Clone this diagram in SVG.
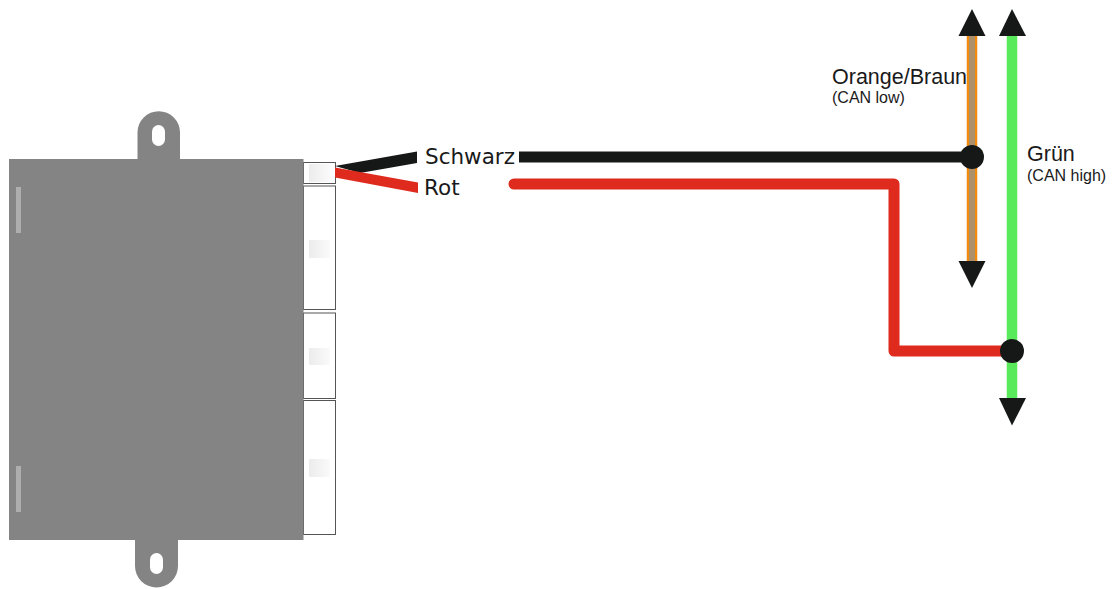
<svg xmlns="http://www.w3.org/2000/svg" width="1112" height="589" viewBox="0 0 1112 589">
<style>
.slot{fill:#fff;stroke:#555;stroke-width:1}
.body{fill:#848484}
.hole{fill:#fff}
.mark{fill:#aeaeae}
.pad{fill:url(#pad)}
.lbl{font-family:"DejaVu Sans",sans-serif;font-size:21.500px;fill:#1a1a1a}
.lbl2{font-family:"Liberation Sans",Arial,sans-serif;font-size:21.500px;fill:#1a1a1a}
.sub{font-family:"Liberation Sans",Arial,sans-serif;font-size:16px;fill:#1a1a1a}
.head{fill:#161817}
</style>
<defs>
<linearGradient id="pad"><stop offset="0" stop-color="#ececec"/><stop offset="1" stop-color="#fafafa"/></linearGradient>
</defs>
<g id="device">
<rect class="slot" x="303.500" y="162.500" width="32" height="21"/>
<rect class="slot" x="303.500" y="186" width="32" height="123.500"/>
<rect class="slot" x="303.500" y="313" width="32" height="85.500"/>
<rect class="slot" x="303.500" y="400.500" width="32" height="134"/>
<rect class="pad" x="309" y="164" width="21" height="18"/>
<rect class="pad" x="309" y="240" width="21" height="18"/>
<rect class="pad" x="309" y="348" width="21" height="17"/>
<rect class="pad" x="309" y="459" width="21" height="18"/>
<path class="body" d="M9 159H137.500V132.500A21.200 21.200 0 0 1 180 132.500V159H303.500V540H178V566A21.500 21.500 0 0 1 135 566V540H9Z"/>
<rect class="hole" x="152" y="125" width="13" height="21" rx="6.500"/>
<rect class="hole" x="150" y="553" width="13" height="21" rx="6.500"/>
<rect class="mark" x="16" y="187" width="5" height="46"/>
<rect class="mark" x="16" y="466" width="5" height="46"/>
</g>
<g id="connectors">
<path d="M335 166L417 151.500V163L360 173Z" fill="#161817"/>
<path d="M335 167.500L418 182.500V193L335 177.500Z" fill="#df2b1d"/>
<path d="M519 157H972" fill="none" stroke="#161817" stroke-width="11"/>
<path d="M514 184H894V351H1012" fill="none" stroke="#df2b1d" stroke-width="11" stroke-linecap="round" stroke-linejoin="round"/>
<path d="M972 30V265" fill="none" stroke="#f28a0e" stroke-width="10.500"/>
<path d="M972 30V265" fill="none" stroke="#ad9069" stroke-width="6"/>
<path d="M1012 30V402" fill="none" stroke="#58ea5a" stroke-width="10.500"/>
</g>
<g id="bus-low">
<path class="head" d="M972 9L985.500 36H958.500Z"/>
<path class="head" d="M972 288L985.500 261H958.500Z"/>
<circle class="head" cx="972" cy="157" r="12"/>
</g>
<g id="bus-high">
<path class="head" d="M1012 9L1026 36H999Z"/>
<path class="head" d="M1012 425.500L1026 398H999Z"/>
<circle class="head" cx="1012" cy="351" r="12"/>
</g>
<g id="labels">
<text class="lbl" x="425" y="164">Schwarz</text>
<text class="lbl" x="424" y="195">Rot</text>
<text class="lbl2" x="832" y="84">Orange/Braun</text>
<text class="sub" x="832" y="102.500">(CAN low)</text>
<text class="lbl2" x="1027" y="161">Grün</text>
<text class="sub" x="1027" y="180.500">(CAN high)</text>
</g>
</svg>
